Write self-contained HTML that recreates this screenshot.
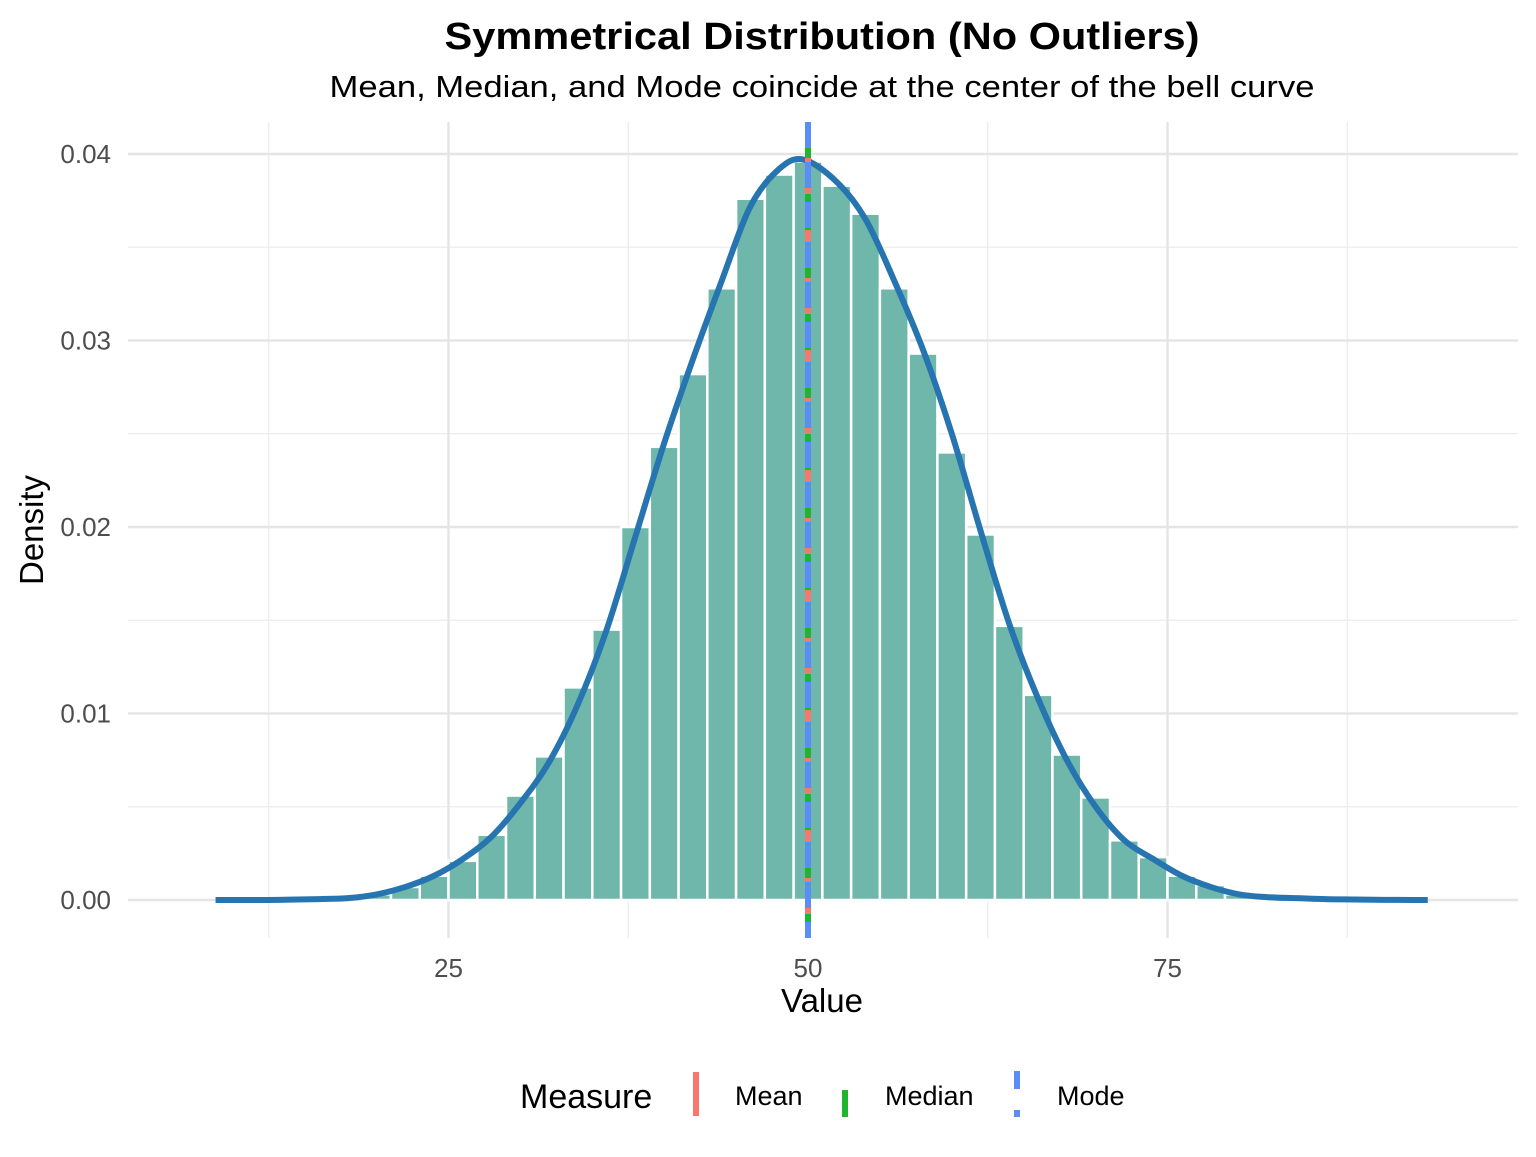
<!DOCTYPE html>
<html><head><meta charset="utf-8"><style>
body{margin:0;background:#fff;}
svg text{font-family:"Liberation Sans",Arial,sans-serif;}
</style></head><body>
<svg id="chart" width="1536" height="1152" xmlns="http://www.w3.org/2000/svg">
<rect width="1536" height="1152" fill="#fff"/>
<g id="grid"></g>
<g id="bars"></g>
<g id="curve"></g>
<g id="vlines"></g>
<g id="ticks"></g>
<text x="822" y="49" text-anchor="middle" font-size="38" font-weight="bold" textLength="755" lengthAdjust="spacingAndGlyphs">Symmetrical Distribution (No Outliers)</text>
<text x="822" y="97" text-anchor="middle" font-size="31" textLength="985" lengthAdjust="spacingAndGlyphs">Mean, Median, and Mode coincide at the center of the bell curve</text>
<text x="822" y="1012" text-anchor="middle" font-size="33">Value</text>
<text transform="translate(43,530) rotate(-90)" text-anchor="middle" font-size="33">Density</text>
<g>
<text x="520" y="1108" font-size="34">Measure</text>
<line x1="696" y1="1072" x2="696" y2="1116" stroke="#F8766D" stroke-width="6"/>
<text x="735" y="1105" font-size="27">Mean</text>
<line x1="845" y1="1090" x2="845" y2="1117" stroke="#1FB52E" stroke-width="6"/>
<text x="885" y="1105" font-size="27">Median</text>
<line x1="1017" y1="1071" x2="1017" y2="1089" stroke="#5B8DF7" stroke-width="6"/>
<line x1="1017" y1="1110" x2="1017" y2="1117" stroke="#5B8DF7" stroke-width="6"/>
<text x="1057" y="1105" font-size="27">Mode</text>
</g>
</svg>
<script>
const binCenters=[20,22,24,26,28,30,32,34,36,38,40,42,44,46,48,50,52,54,56,58,60,62,64,66,68,70,72,74,76,78,80,82];
const binDensity=[0.0003,0.0007,0.0013,0.0021,0.0035,0.0056,0.0077,0.0114,0.0145,0.0200,0.0243,0.0282,0.0328,0.0376,0.0389,0.0396,0.0383,0.0368,0.0328,0.0293,0.0240,0.0196,0.0147,0.0110,0.0078,0.0055,0.0032,0.0023,0.0013,0.0008,0.0003,0.0001];
const curveX=[8.8,12,14,16,18,20,22,24,26,28,30,32,34,36,38,40,42,44,46,48,49.7,52,54,56,58,60,62,64,66,68,70,72,74,76,78,80,82,84,86,88,90,92,93.1];
const curveY=[0,0,0.00002,0.00005,0.0001,0.0003,0.0007,0.0013,0.0022,0.0034,0.0052,0.0074,0.0105,0.0145,0.0195,0.0245,0.029,0.0332,0.0372,0.0392,0.0397,0.0385,0.0365,0.0332,0.0295,0.025,0.0198,0.0148,0.0108,0.0075,0.005,0.0032,0.0022,0.0013,0.0007,0.0003,0.00015,0.0001,0.00005,0.00003,0.00001,0,0];
const xTicks=[25,50,75];
const yTicks=[0,0.01,0.02,0.03,0.04];
const yTickLabels=["0.00","0.01","0.02","0.03","0.04"];
const measureValues=[50,50,50];
const binWidth=2;
const NS="http://www.w3.org/2000/svg";
const sx=v=>808+(v-50)*14.38;
const sy=v=>900-v*18650;
function mk(tag,attrs,parent){const e=document.createElementNS(NS,tag);for(const k in attrs)e.setAttribute(k,attrs[k]);parent.appendChild(e);return e;}
const grid=document.getElementById('grid');
[12.5,37.5,62.5,87.5].forEach(v=>{const l=mk('line',{x1:sx(v),x2:sx(v),y1:122,y2:938,stroke:'#ebebeb','stroke-width':1.2},grid);

});
[0.005,0.015,0.025,0.035].forEach(v=>{const l=mk('line',{x1:128,x2:1518,y1:sy(v),y2:sy(v),stroke:'#ebebeb','stroke-width':1.2},grid);

});
xTicks.forEach(v=>{const l=mk('line',{x1:sx(v),x2:sx(v),y1:122,y2:938,stroke:'#e5e5e5','stroke-width':2.4},grid);

});
yTicks.forEach(v=>{const l=mk('line',{x1:128,x2:1518,y1:sy(v),y2:sy(v),stroke:'#e5e5e5','stroke-width':2.4},grid);

});
const bars=document.getElementById('bars');
binCenters.forEach((c,i)=>{const x0=sx(c-binWidth/2),x1=sx(c+binWidth/2);
const r=mk('rect',{x:x0,y:sy(binDensity[i]),width:x1-x0,height:sy(0)-sy(binDensity[i]),fill:'#6fb7ab',stroke:'#fff','stroke-width':2.5},bars);

});
const pts=curveX.map((x,i)=>[sx(x),sy(curveY[i])]);
let d='M'+pts[0][0]+','+pts[0][1];
for(let i=0;i<pts.length-1;i++){const p0=pts[Math.max(0,i-1)],p1=pts[i],p2=pts[i+1],p3=pts[Math.min(pts.length-1,i+2)];
d+=' C'+(p1[0]+(p2[0]-p0[0])/6)+','+(p1[1]+(p2[1]-p0[1])/6)+' '+(p2[0]-(p3[0]-p1[0])/6)+','+(p2[1]-(p3[1]-p1[1])/6)+' '+p2[0]+','+p2[1];}
const cp=mk('path',{d:d,fill:'none',stroke:'#2775b0','stroke-width':6,'stroke-linejoin':'round'},document.getElementById('curve'));


const vl=document.getElementById('vlines');
const styles=[['#F8766D','none','mean-line'],['#1FB52E','12 12','median-line'],['#5B8DF7','26 14','mode-line']];
measureValues.forEach((v,i)=>{const l=mk('line',{x1:sx(v),x2:sx(v),y1:122,y2:938,stroke:styles[i][0],'stroke-width':6,'stroke-dasharray':styles[i][1]},vl);

});
const tk=document.getElementById('ticks');
xTicks.forEach(v=>{const t=mk('text',{x:sx(v),y:977,'text-anchor':'middle','font-size':26,fill:'#4d4d4d'},tk);t.textContent=v;

});
yTicks.forEach((v,i)=>{const t=mk('text',{x:111,y:sy(v)+9,'text-anchor':'end','font-size':26,fill:'#4d4d4d'},tk);t.textContent=yTickLabels[i];

});
</script>
</body></html>
